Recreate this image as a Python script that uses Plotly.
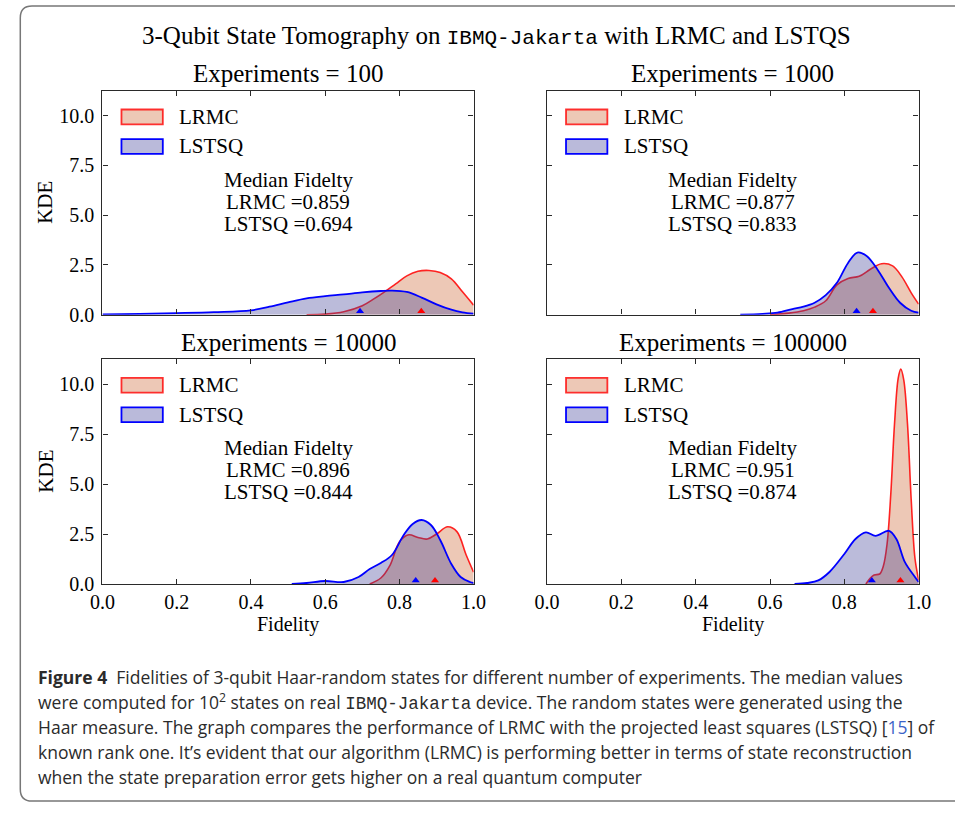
import plotly.graph_objects as go

W, H = 955, 814

# ---------------- data ----------------
panel_titles = ["Experiments = 100", "Experiments = 1000",
                "Experiments = 10000", "Experiments = 100000"]

# Experiments = 100
lrmc_100_x = [0.55, 0.6, 0.65, 0.7, 0.73, 0.76, 0.79, 0.82, 0.85, 0.88, 0.91, 0.94, 0.97, 1.0]
lrmc_100_y = [0.0, 0.03, 0.15, 0.45, 0.78, 1.15, 1.55, 1.95, 2.18, 2.22, 2.12, 1.80, 1.15, 0.48]
lstsq_100_x = [0.0, 0.1, 0.2, 0.3, 0.4, 0.45, 0.5, 0.55, 0.6, 0.65, 0.7, 0.75, 0.78, 0.82, 0.86, 0.9, 0.94, 0.97, 1.0]
lstsq_100_y = [0.01, 0.04, 0.08, 0.13, 0.22, 0.40, 0.62, 0.82, 0.93, 1.02, 1.12, 1.19, 1.21, 1.14, 0.86, 0.52, 0.25, 0.12, 0.05]

# Experiments = 1000
lrmc_1000_x = [0.6, 0.65, 0.69, 0.72, 0.75, 0.78, 0.81, 0.84, 0.87, 0.9, 0.93, 0.955, 0.98, 1.0]
lrmc_1000_y = [0.0, 0.08, 0.2, 0.38, 0.7, 1.5, 1.82, 1.93, 2.28, 2.56, 2.45, 1.9, 1.1, 0.53]
lstsq_1000_x = [0.52, 0.58, 0.62, 0.66, 0.69, 0.72, 0.75, 0.78, 0.81, 0.835, 0.86, 0.89, 0.92, 0.95, 0.98, 1.0]
lstsq_1000_y = [0.0, 0.04, 0.1, 0.28, 0.4, 0.6, 0.98, 1.6, 2.6, 3.12, 2.95, 2.25, 1.35, 0.6, 0.2, 0.1]

# Experiments = 10000
lrmc_10000_x = [0.72, 0.75, 0.775, 0.8, 0.825, 0.85, 0.875, 0.9, 0.93, 0.955, 0.98, 1.0]
lrmc_10000_y = [0.0, 0.3, 0.95, 2.1, 2.46, 2.33, 2.25, 2.5, 2.86, 2.62, 1.45, 0.59]
lstsq_10000_x = [0.51, 0.55, 0.6, 0.65, 0.69, 0.72, 0.75, 0.78, 0.81, 0.835, 0.86, 0.885, 0.91, 0.94, 0.965, 0.99, 1.0]
lstsq_10000_y = [0.0, 0.05, 0.15, 0.1, 0.35, 0.75, 1.05, 1.45, 2.4, 2.99, 3.2, 2.95, 2.2, 1.0, 0.35, 0.1, 0.05]

# Experiments = 100000
lrmc_100000_x = [0.858, 0.87, 0.88, 0.895, 0.905, 0.915, 0.925, 0.935, 0.945, 0.952, 0.96, 0.97, 0.98, 0.99, 1.0]
lrmc_100000_y = [0.0, 0.3, 0.45, 0.5, 0.9, 2.0, 4.5, 8.0, 10.3, 10.75, 10.2, 8.0, 4.2, 1.3, 0.2]
lstsq_100000_x = [0.666, 0.7, 0.73, 0.76, 0.8, 0.83, 0.858, 0.884, 0.92, 0.94, 0.963, 0.99, 1.0]
lstsq_100000_y = [0.0, 0.05, 0.18, 0.6, 1.5, 2.25, 2.58, 2.41, 2.66, 2.25, 1.09, 0.35, 0.1]

median_lrmc = [0.859, 0.877, 0.896, 0.951]
median_lstsq = [0.694, 0.833, 0.844, 0.874]

x_ticks = [0.0, 0.2, 0.4, 0.6, 0.8, 1.0]
y_ticks = [0.0, 2.5, 5.0, 7.5, 10.0]
x_range = [0.0, 1.0]
y_range = [0.0, 11.25]

panels = [
    (lrmc_100_x, lrmc_100_y, lstsq_100_x, lstsq_100_y),
    (lrmc_1000_x, lrmc_1000_y, lstsq_1000_x, lstsq_1000_y),
    (lrmc_10000_x, lrmc_10000_y, lstsq_10000_x, lstsq_10000_y),
    (lrmc_100000_x, lrmc_100000_y, lstsq_100000_x, lstsq_100000_y),
]

# ---------------- styles ----------------
SERIF = "Liberation Serif, Times New Roman, serif"
MONO = "Liberation Mono, Courier New, monospace"
CAP = "Open Sans, Noto Sans, sans-serif"
RED_LINE = "rgba(255,0,0,0.85)"
RED_FILL = "rgb(237,200,182)"
BLUE_LINE = "rgb(0,0,255)"
BLUE_FILL = "rgba(60,60,150,0.35)"
AX = "#2a2a2a"


def px(x):
    return x / W


def py(y):
    return 1 - y / H


# panel pixel boxes: (left, right, top, bottom)
boxes = [(92, 473.5, 92, 319), (549, 931, 92, 319),
         (92, 473.5, 364, 592), (549, 931, 364, 592)]

fig = go.Figure()
layout = dict(width=W, height=H, margin=dict(l=0, r=0, t=0, b=0),
              paper_bgcolor="white", plot_bgcolor="white", showlegend=False)
annotations = []
shapes = []

for i, (lx, ly, bx, by) in enumerate(panels):
    n = "" if i == 0 else str(i + 1)
    xa, ya = "x" + n, "y" + n
    L, R, T, B = boxes[i]
    ppu = (B - T) / (y_range[1] - y_range[0])
    tri = 7
    tri_y = (tri / 2) / ppu

    fig.add_trace(go.Scatter(x=lx, y=ly, xaxis=xa, yaxis=ya, mode="lines",
                             line=dict(color=RED_LINE, width=1.6, shape="spline", smoothing=1.0),
                             fill="tozeroy", fillcolor=RED_FILL, name="LRMC"))
    fig.add_trace(go.Scatter(x=bx, y=by, xaxis=xa, yaxis=ya, mode="lines",
                             line=dict(color=BLUE_LINE, width=1.8, shape="spline", smoothing=1.0),
                             fill="tozeroy", fillcolor=BLUE_FILL, name="LSTSQ"))
    fig.add_trace(go.Scatter(x=[median_lstsq[i]], y=[tri_y], xaxis=xa, yaxis=ya, mode="markers",
                             marker=dict(symbol="triangle-up", size=tri, color="blue"),
                             cliponaxis=False))
    fig.add_trace(go.Scatter(x=[median_lrmc[i]], y=[tri_y], xaxis=xa, yaxis=ya, mode="markers",
                             marker=dict(symbol="triangle-up", size=tri, color="red"),
                             cliponaxis=False))

    common = dict(showline=True, linecolor=AX, linewidth=1.4, mirror="ticks",
                  ticks="inside", ticklen=5, tickwidth=1.3, tickcolor=AX,
                  showgrid=False, zeroline=False,
                  tickfont=dict(family=SERIF, size=20, color="black"))
    layout["xaxis" + n] = dict(common, domain=[px(L), px(R)], anchor=ya, range=x_range,
                               tickvals=x_ticks, ticktext=[f"{v:.1f}" for v in x_ticks],
                               showticklabels=(i >= 2), ticklabelstandoff=0)
    layout["yaxis" + n] = dict(common, domain=[py(B), py(T)], anchor=xa, range=y_range,
                               tickvals=y_ticks, ticktext=[f"{v:.1f}" for v in y_ticks],
                               showticklabels=(i % 2 == 0), ticklabelstandoff=3)

    cx = (L + R) / 2
    # panel title
    annotations.append(dict(text=panel_titles[i], x=px(cx), y=py(T - 17), xref="paper", yref="paper",
                            showarrow=False, xanchor="center", yanchor="middle",
                            font=dict(family=SERIF, size=25, color="black")))
    # median text
    for k, line in enumerate(["Median Fidelty", f"LRMC =%.3f" % median_lrmc[i],
                              f"LSTSQ =%.3f" % median_lstsq[i]]):
        annotations.append(dict(text=line, x=px(cx), y=py(T + 90 + 22.5 * k), xref="paper", yref="paper",
                                showarrow=False, xanchor="center", yanchor="middle",
                                font=dict(family=SERIF, size=21, color="black")))
    # legend
    for k, (nm, fc, lc) in enumerate([("LRMC", RED_FILL, "rgba(255,0,0,0.8)"),
                                      ("LSTSQ", "rgb(186,186,218)", "rgb(0,0,255)")]):
        top = T + 19 + 30 * k
        shapes.append(dict(type="rect", xref="paper", yref="paper",
                           x0=px(L + 19.5), x1=px(L + 62), y0=py(top), y1=py(top + 15),
                           fillcolor=fc, line=dict(color=lc, width=1.8)))
        annotations.append(dict(text=nm, x=px(L + 77), y=py(top + 7.5), xref="paper", yref="paper",
                                showarrow=False, xanchor="left", yanchor="middle",
                                font=dict(family=SERIF, size=21, color="black")))
    if i >= 2:
        annotations.append(dict(text="Fidelity", x=px(cx), y=py(633), xref="paper", yref="paper",
                                showarrow=False, xanchor="center", yanchor="middle",
                                font=dict(family=SERIF, size=20, color="black")))
    if i % 2 == 0:
        annotations.append(dict(text="KDE", x=px(33), y=py((T + B) / 2), xref="paper", yref="paper",
                                showarrow=False, textangle=-90, xanchor="center", yanchor="middle",
                                font=dict(family=SERIF, size=21, color="black")))

# main title
annotations.append(dict(
    text=("3-Qubit State Tomography on <span style=\"font-family:%s;font-size:21px\">IBMQ-Jakarta</span> "
          "with LRMC and LSTQS") % MONO,
    x=px(497), y=py(37), xref="paper", yref="paper", showarrow=False,
    xanchor="center", yanchor="middle", font=dict(family=SERIF, size=25, color="black")))

# caption
mono_span = "<span style=\"font-family:%s\">IBMQ-Jakarta</span>" % MONO
caption_lines = [
    "<b>Figure 4</b>  Fidelities of 3-qubit Haar-random states for different number of experiments. The median values",
    "were computed for 10<sup>2</sup> states on real " + mono_span + " device. The random states were generated using the",
    "Haar measure. The graph compares the performance of LRMC with the projected least squares (LSTSQ) "
    "[<span style=\"color:#3b63c8\">15</span>] of",
    "known rank one. It\u2019s evident that our algorithm (LRMC) is performing better in terms of state reconstruction",
    "when the state preparation error gets higher on a real quantum computer",
]
for k, line in enumerate(caption_lines):
    annotations.append(dict(text=line, x=px(24), y=py(686 + 25.5 * k), xref="paper", yref="paper",
                            showarrow=False, xanchor="left", yanchor="middle",
                            font=dict(family=CAP, size=17.5, color="#2b2b2b")))

# outer rounded frame
r = 12
fl, ft, fb, fr = 7.5, 6, 812, 1000
path = ("M {a},{b} L {c},{b} Q {d},{b} {d},{e} L {d},{f} Q {d},{g} {c},{g} L {a},{g}").format(
    a=px(fr), b=py(ft), c=px(fl + r), d=px(fl), e=py(ft + r), f=py(fb - r), g=py(fb))
shapes.append(dict(type="path", xref="paper", yref="paper", path=path,
                   line=dict(color="#777777", width=1.5)))

layout["annotations"] = annotations
layout["shapes"] = shapes
fig.update_layout(**layout)
fig.write_html("out.html", post_script="document.body.style.margin='0';")
